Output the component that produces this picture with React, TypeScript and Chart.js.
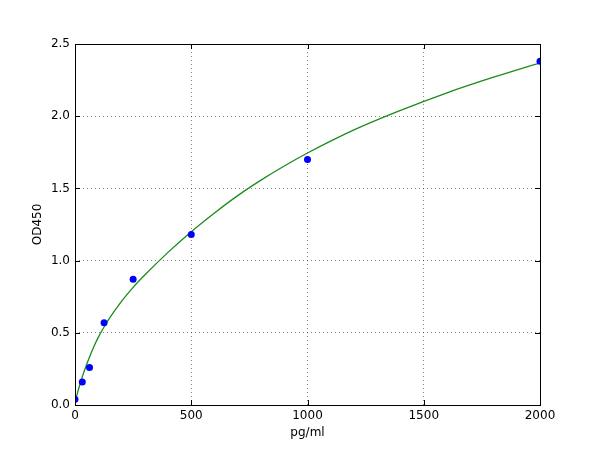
import React, { useEffect, useRef } from "react";
import { Chart, registerables } from "chart.js";

Chart.register(...registerables);

// Measured standards
const stdConc = [0, 31.25, 62.5, 125, 250, 500, 1000, 2000];
const stdOD = [0.04, 0.16, 0.26, 0.57, 0.87, 1.18, 1.7, 2.38];

// Fitted curve
const curveConc = [0, 10, 20, 31.25, 50, 62.5, 80, 100, 125, 150, 200, 250, 300, 400, 500, 600, 700, 800, 900, 1000, 1200, 1400, 1600, 1800, 2000];
const curveOD = [0.02, 0.08, 0.135, 0.195, 0.28, 0.333, 0.4, 0.468, 0.54, 0.605, 0.718, 0.815, 0.9, 1.057, 1.2, 1.33, 1.45, 1.557, 1.655, 1.745, 1.905, 2.04, 2.162, 2.27, 2.37];

const xTicks = [0, 500, 1000, 1500, 2000];
const yTicks = [0, 0.5, 1.0, 1.5, 2.0, 2.5];

const FONT = { family: "'DejaVu Sans', sans-serif", size: 12 };

const frameAndTicks = {
  id: "frameAndTicks",
  afterDraw(chart: any) {
    const { ctx, chartArea: a, scales } = chart;
    const len = 5;
    ctx.save();
    ctx.strokeStyle = "#000";
    ctx.lineWidth = 1;
    ctx.beginPath();
    for (const v of xTicks) {
      const px = Math.round(scales.x.getPixelForValue(v)) + 0.5;
      ctx.moveTo(px, a.bottom);
      ctx.lineTo(px, a.bottom - len);
      ctx.moveTo(px, a.top);
      ctx.lineTo(px, a.top + len);
    }
    for (const v of yTicks) {
      const py = Math.round(scales.y.getPixelForValue(v)) + 0.5;
      ctx.moveTo(a.left, py);
      ctx.lineTo(a.left + len, py);
      ctx.moveTo(a.right, py);
      ctx.lineTo(a.right - len, py);
    }
    ctx.stroke();
    ctx.strokeRect(Math.round(a.left) + 0.5, Math.round(a.top) + 0.5, Math.round(a.right - a.left), Math.round(a.bottom - a.top));
    ctx.restore();
  },
};

export default function App() {
  const ref = useRef<HTMLCanvasElement>(null);

  useEffect(() => {
    document.body.style.margin = "0";
    const canvas = ref.current;
    if (!canvas) return;
    const chart = new Chart(canvas, {
      type: "scatter",
      data: {
        datasets: [
          {
            type: "scatter",
            data: stdConc.map((x, i) => ({ x, y: stdOD[i] })),
            backgroundColor: "#0000ff",
            borderColor: "#0000ff",
            pointRadius: 3.5,
            borderWidth: 0,
            clip: 0,
            order: 0,
          } as any,
          {
            type: "line",
            data: curveConc.map((x, i) => ({ x, y: curveOD[i] })),
            borderColor: "#1a8c1a",
            borderWidth: 1.3,
            pointRadius: 0,
            fill: false,
            cubicInterpolationMode: "monotone",
            showLine: true,
            clip: 0,
            order: 1,
          } as any,
        ],
      },
      options: {
        responsive: false,
        animation: false,
        devicePixelRatio: 1,
        layout: { padding: { left: 0, top: 44, right: 60, bottom: 0 } },
        plugins: { legend: { display: false }, tooltip: { enabled: false } },
        scales: {
          x: {
            type: "linear",
            min: 0,
            max: 2000,
            afterBuildTicks: (axis: any) => {
              axis.ticks = xTicks.map((v) => ({ value: v }));
            },
            afterFit: (axis: any) => {
              axis.height = 45;
            },
            ticks: {
              color: "#000",
              font: FONT,
              padding: 4,
              maxRotation: 0,
              callback: (v: any) => String(v),
            },
            grid: { color: "rgba(0,0,0,0.6)", lineWidth: 0.8, drawTicks: false },
            border: { display: false, dash: [1, 3] },
            title: { display: true, text: "pg/ml", color: "#000", font: FONT, padding: { top: 2, bottom: 10 } },
          },
          y: {
            type: "linear",
            min: 0,
            max: 2.5,
            afterBuildTicks: (axis: any) => {
              axis.ticks = yTicks.map((v) => ({ value: v }));
            },
            afterFit: (axis: any) => {
              axis.width = 75;
            },
            ticks: {
              color: "#000",
              font: FONT,
              padding: 5,
              callback: (v: any) => Number(v).toFixed(1),
            },
            grid: { color: "rgba(0,0,0,0.6)", lineWidth: 0.8, drawTicks: false },
            border: { display: false, dash: [1, 3] },
            title: { display: true, text: "OD450", color: "#000", font: FONT, padding: { top: 31, bottom: 0 } },
          },
        },
      },
      plugins: [frameAndTicks],
    });
    return () => chart.destroy();
  }, []);

  return (
    <div style={{ width: 600, height: 450, background: "#fff" }}>
      <canvas ref={ref} width={600} height={450} style={{ display: "block" }} />
    </div>
  );
}
